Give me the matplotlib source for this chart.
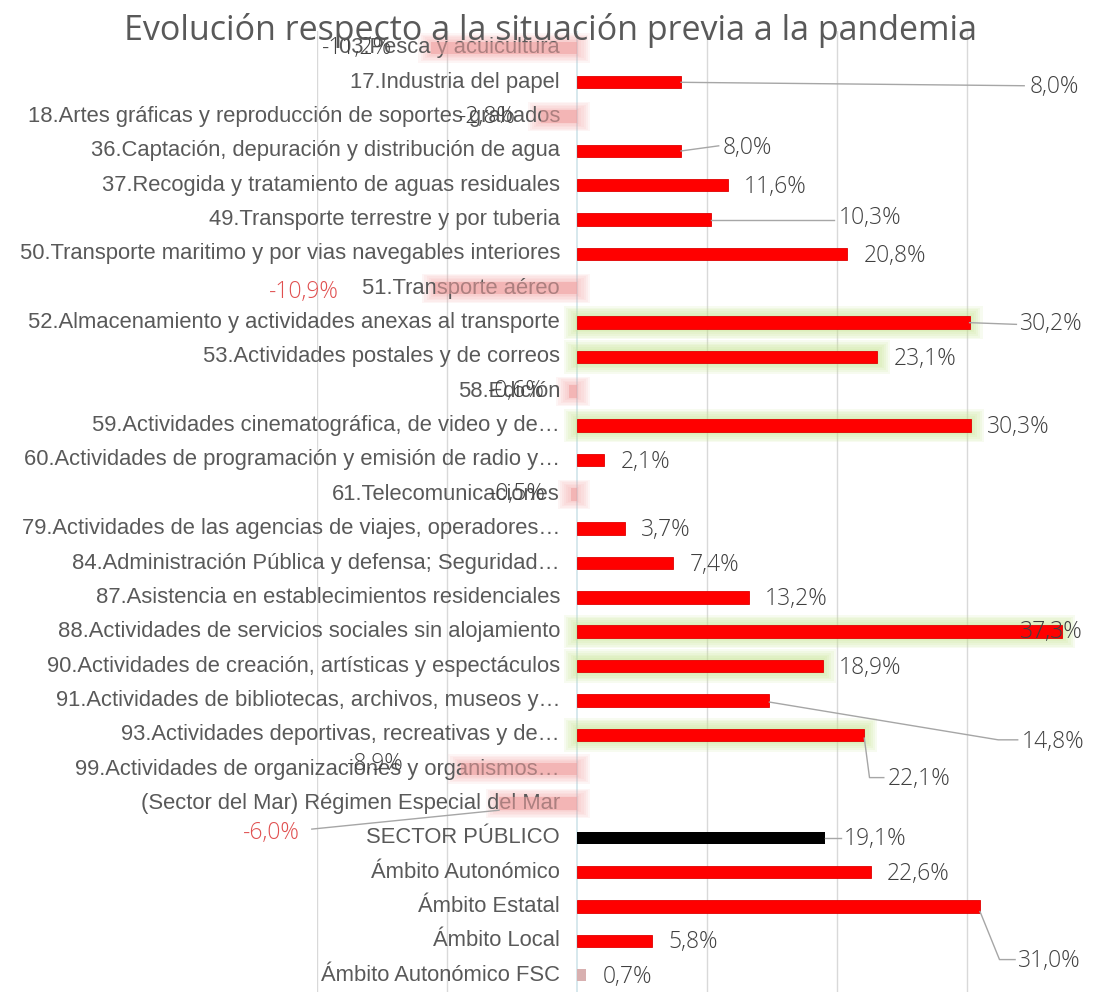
import matplotlib
matplotlib.use("Agg")
import matplotlib.pyplot as plt

categories = [
    "03.Pesca y acuicultura",
    "17.Industria del papel",
    "18.Artes gráficas y reproducción de soportes grabados",
    "36.Captación, depuración y distribución de agua",
    "37.Recogida y tratamiento de aguas residuales",
    "49.Transporte terrestre y por tuberia",
    "50.Transporte maritimo y por vias navegables interiores",
    "51.Transporte aéreo",
    "52.Almacenamiento y actividades anexas al transporte",
    "53.Actividades postales y de correos",
    "58.Edición",
    "59.Actividades cinematográfica, de video y de…",
    "60.Actividades de programación y emisión de radio y…",
    "61.Telecomunicaciones",
    "79.Actividades de las agencias de viajes, operadores…",
    "84.Administración Pública y defensa; Seguridad…",
    "87.Asistencia en establecimientos residenciales",
    "88.Actividades de servicios sociales sin alojamiento",
    "90.Actividades de creación, artísticas y espectáculos",
    "91.Actividades de bibliotecas, archivos, museos y…",
    "93.Actividades deportivas, recreativas y de…",
    "99.Actividades de organizaciones y organismos…",
    "(Sector del Mar) Régimen Especial del Mar",
    "SECTOR PÚBLICO",
    "Ámbito Autonómico",
    "Ámbito Estatal",
    "Ámbito Local",
    "Ámbito Autonómico FSC",
]
values = [-11.2, 8.0, -2.8, 8.0, 11.6, 10.3, 20.8, -10.9, 30.2, 23.1,
          -0.6, 30.3, 2.1, -0.5, 3.7, 7.4, 13.2, 37.3, 18.9, 14.8,
          22.1, -8.9, -6.0, 19.1, 22.6, 31.0, 5.8, 0.7]
green_glow_rows = ["52.", "53.", "59.", "88.", "90.", "93."]

title = "Evolución respecto a la situación previa a la pandemia"

W, H = 1094, 996
fig = plt.figure(figsize=(W / 100, H / 100), dpi=100)
x_left_px, px_per_unit = 317, 13.0
xmin, xmax = -20, (W - x_left_px) / px_per_unit - 20
top_px, bot_px = 30.8, 992.2
ax = fig.add_axes([x_left_px / W, (H - bot_px) / H, (W - x_left_px) / W, (bot_px - top_px) / H])
ax.set_xlim(xmin, xmax)
n = len(categories)
ax.set_ylim(n - 0.5, -0.5)
ax.axis("off")

grid_c = "#d9d9d9"
for g in [-20, -10, 10, 20, 30]:
    ax.axvline(g, color=grid_c, lw=1.0, zorder=0)
ax.axvline(0, color="#d3e6ec", lw=1.3, zorder=0)

label_font = "Liberation Sans"
val_font = "Open Sans"
txt_c = "#595959"
val_c = "#404040"
bar_h = 0.36


def fmt(v):
    return ("%.1f%%" % v).replace(".", ",")


def glow(i, v, color, alpha, steps, ext, vext):
    for k in range(1, steps + 1):
        f = k / steps
        lo = min(0, v) - ext * f
        hi = max(0, v) + ext * f
        ax.barh(i, hi - lo, left=lo, height=bar_h + vext * f,
                color=color, alpha=alpha, lw=0, zorder=1)


for i, (cat, v) in enumerate(zip(categories, values)):
    ax.text(-1.3, i, cat, ha="right", va="center", fontsize=15.8,
            family=label_font, color=txt_c, zorder=2, clip_on=False)
    if v < 0:
        glow(i, v, "#f29a9a", 0.09, 6, 1.0, 0.5)
        ax.barh(i, v, height=bar_h, color="#f0a0a0", alpha=0.55, lw=0, zorder=3)
    elif cat.startswith("SECTOR"):
        ax.barh(i, v, height=bar_h, color="#000000", lw=0, zorder=3)
    elif v < 1:
        ax.barh(i, v, height=bar_h, color="#d8b0b0", lw=0, zorder=3)
    else:
        if any(cat.startswith(p) for p in green_glow_rows):
            glow(i, v, "#c4e48c", 0.13, 6, 1.0, 0.62)
        ax.barh(i, v, height=bar_h, color="#ff0000", edgecolor="#e00000",
                lw=0.6, zorder=3)

manual = {
    0: dict(x=-16.9, y=0.0, ha="center"),
    1: dict(x=34.85, y=1.15, ha="left", lead=[(8.0, 1.0), (34.4, 1.1)]),
    3: dict(x=11.2, y=2.9, ha="left", lead=[(8.0, 3.0), (10.9, 2.85)]),
    5: dict(x=20.1, y=4.95, ha="left", lead=[(10.3, 5.0), (19.8, 5.0)]),
    7: dict(x=-21.0, y=7.1, ha="center", color="#e05050"),
    8: dict(x=34.1, y=8.05, ha="left", lead=[(30.2, 8.0), (33.8, 8.05)]),
    17: dict(x=34.1, y=17.0, ha="left"),
    19: dict(x=34.2, y=20.2, ha="left", lead=[(14.8, 19.05), (32.4, 20.15), (33.9, 20.15)]),
    20: dict(x=23.9, y=21.3, ha="left", lead=[(22.1, 20.1), (22.5, 21.25), (23.6, 21.25)]),
    21: dict(x=-15.5, y=20.85, ha="center"),
    22: dict(x=-23.5, y=22.85, ha="center", color="#e05050", lead=[(-20.4, 22.75), (-6.0, 22.2)]),
    23: dict(x=20.5, y=23.05, ha="left", lead=[(19.1, 23.0), (20.3, 23.0)]),
    25: dict(x=33.9, y=26.6, ha="left", lead=[(31.0, 25.15), (32.5, 26.55), (33.7, 26.55)]),
}
for i, v in enumerate(values):
    m = manual.get(i)
    if m is None:
        if v >= 0:
            m = dict(x=v + 1.25, y=i + 0.05, ha="left")
        else:
            m = dict(x=v - 1.9, y=i, ha="right")
    if "lead" in m:
        xs = [p[0] for p in m["lead"]]
        ys = [p[1] for p in m["lead"]]
        ax.plot(xs, ys, color="#a6a6a6", lw=1.0, zorder=4, clip_on=False)
    ax.text(m["x"], m["y"], fmt(v), ha=m["ha"], va="center", fontsize=16.5,
            family=val_font, fontweight="light", color=m.get("color", val_c),
            zorder=5, clip_on=False)

fig.text(0.503, 1 - 30 / H, title, ha="center", va="center", fontsize=24.5,
         family="Open Sans", color="#595959")

fig.savefig("out.png", dpi=100)
